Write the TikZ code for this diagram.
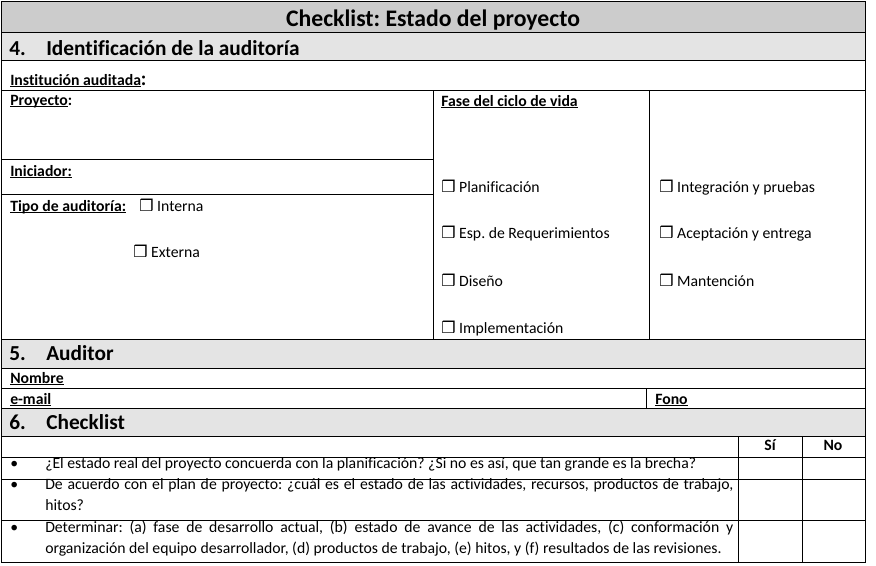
\documentclass[tikz,border=0pt]{standalone}
\usepackage{fontspec}
\setmainfont{Carlito}[Ligatures=NoCommon]
\newfontfamily\dejavu{DejaVu Sans}
\definecolor{titlegray}{HTML}{CCCCCC}
\definecolor{secgray}{HTML}{E4E4E4}
\newcommand{\lbl}[1]{\setbox0\hbox{#1}\rlap{\rule[-1.6pt]{\wd0}{0.75pt}}\box0}
\newcommand{\chk}{{\dejavu\fontsize{12}{12}\selectfont ❒}\ }
\frenchspacing
\begin{document}
\begin{tikzpicture}[x=0.75pt,y=-0.75pt,
		txt/.style={anchor=base west,inner sep=0pt,font=\fontsize{11.8}{16}\selectfont},
		head/.style={anchor=base west,inner sep=0pt,font=\bfseries\fontsize{16}{19}\selectfont},
		grid/.style={line width=0.75pt}]
			\useasboundingbox (0,0) rectangle (876,565);
			\fill [titlegray] (1,1) rectangle (865,32);
			\fill [secgray] (1,32) rectangle (865,60);
			\fill [secgray] (1,339) rectangle (865,368);
			\fill [secgray] (1,408) rectangle (865,436);
			
			\draw [grid] (1,1) rectangle (865,562);
			\foreach \y in {32,60,90,339,368,388,408,436,457,479,520}
				\draw [grid] (1,\y) -- (865,\y);
			\draw [grid] (1,159) -- (433,159);
			\draw [grid] (1,194) -- (433,194);
			\draw [grid] (433,90) -- (433,339);
			\draw [grid] (649,90) -- (649,339);
			\draw [grid] (646,388) -- (646,408);
			\draw [grid] (738,436) -- (738,562);
			\draw [grid] (802,436) -- (802,562);
			
			\draw (433,26) node[head,anchor=base,font=\bfseries\fontsize{17.8}{20}\selectfont] (title) {Checklist: Estado del proyecto};
			\draw (9,55) node[head] (num4) {4.};
			\draw (46,55) node[head] (sec4) {Identificación de la auditoría};
			\draw (9,360) node[head] (num5) {5.};
			\draw (46,360) node[head] (sec5) {Auditor};
			\draw (9,429) node[head] (num6) {6.};
			\draw (46,429) node[head] (sec6) {Checklist};
			
			\draw (10,85) node[txt] (inst) {\lbl{\bfseries Institución auditada}{\bfseries\fontsize{15}{15}\selectfont :}};
			\draw (10,105) node[txt] (proy) {\lbl{\bfseries Proyecto}\textbf{:}};
			\draw (10,176) node[txt] (inic) {\lbl{\bfseries Iniciador:}};
			\draw (10,211) node[txt] (tipo) {\lbl{\bfseries Tipo de auditoría:}};
			\draw (139,211) node[txt] (interna) {\chk Interna};
			\draw (133,257) node[txt] (externa) {\chk Externa};
			
			\draw (441,106) node[txt] (fase) {\lbl{\bfseries Fase del ciclo de vida}};
			\draw (441,192) node[txt] (plan) {\chk Planificación};
			\draw (441,238) node[txt] (req) {\chk Esp. de Requerimientos};
			\draw (441,286) node[txt] (dis) {\chk Diseño};
			\draw (441,333) node[txt] (impl) {\chk Implementación};
			\draw (659,192) node[txt] (integ) {\chk Integración y pruebas};
			\draw (659,238) node[txt] (acep) {\chk Aceptación y entrega};
			\draw (659,286) node[txt] (mant) {\chk Mantención};
			
			\draw (10,383) node[txt] (nombre) {\lbl{\bfseries Nombre}};
			\draw (10,404) node[txt] (email) {\lbl{\bfseries e-mail}};
			\draw (655,404) node[txt] (fono) {\lbl{\bfseries Fono}};
			
			\draw (770,450) node[txt,anchor=base,font=\bfseries\fontsize{11.8}{16}\selectfont] (si) {Sí};
			\draw (833,450) node[txt,anchor=base,font=\bfseries\fontsize{11.8}{16}\selectfont] (no) {No};
			
			\draw (10,468) node[txt] (b1) {•};
			\draw (10,489) node[txt] (b2) {•};
			\draw (10,532) node[txt] (b3) {•};
			\draw (45,468) node[txt] (q1) {¿El estado real del proyecto concuerda con la planificación? ¿Si no es así, que tan grande es la brecha?};
			\draw (45,489) node[txt,text width=516pt,align=justify] (q2) {De acuerdo con el plan de proyecto: ¿cuál es el estado de las actividades, recursos, productos de trabajo,\linebreak hitos?};
			\draw (45,532) node[txt,text width=516pt,align=justify] (q3) {Determinar: (a) fase de desarrollo actual, (b) estado de avance de las actividades, (c) conformación y\linebreak organización del equipo desarrollador, (d) productos de trabajo, (e) hitos, y (f) resultados de las revisiones.};
		\end{tikzpicture}
\end{document}
